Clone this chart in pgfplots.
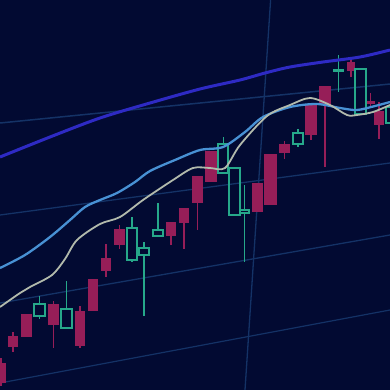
\documentclass[border=0pt]{standalone}
\usepackage{pgfplots}
\pgfplotsset{compat=1.18}
\definecolor{bgc}{RGB}{2,10,50}
\definecolor{gridc}{RGB}{20,50,102}
\definecolor{cred}{RGB}{150,30,88}
\definecolor{cteal}{RGB}{38,168,138}
\definecolor{mablue}{RGB}{46,42,196}
\definecolor{malight}{RGB}{72,145,212}
\definecolor{magray}{RGB}{178,186,172}
% red (filled) candle: xl, xc, xr, top, bottom, high, low
\newcommand{\rc}[7]{%
  \addplot[cred, line width=1.3pt] coordinates {(#2,#6) (#2,#7)};
  \addplot[draw=none, fill=cred] coordinates {(#1,#4) (#3,#4) (#3,#5) (#1,#5)} --cycle;
}
% teal (hollow) candle
\newcommand{\tc}[7]{%
  \addplot[cteal, line width=1.3pt] coordinates {(#2,#6) (#2,#4)};
  \addplot[cteal, line width=1.3pt] coordinates {(#2,#5) (#2,#7)};
  \addplot[cteal, line width=1.3pt, fill=none] coordinates {(#1,#4) (#3,#4) (#3,#5) (#1,#5)} --cycle;
}
\begin{document}
\begin{tikzpicture}
\begin{axis}[
  scale only axis, width=390bp, height=390bp,
  xmin=0, xmax=390, ymin=0, ymax=390, y dir=reverse,
  axis line style={draw=none}, ticks=none,
  axis background/.style={fill=bgc},
  clip=true,
]
% grid lines
\addplot[gridc, line width=1.5pt] coordinates {(0,123) (390,84)};
\addplot[gridc, line width=1.3pt] coordinates {(0,215) (390,163)};
\addplot[gridc, line width=1.3pt] coordinates {(0,303) (390,235)};
\addplot[gridc, line width=1.2pt] coordinates {(0,383) (390,310)};
\addplot[gridc, line width=1.3pt] coordinates {(270.6,0) (245,390)};
% red candles
\rc{-4}{1}{6}{363}{383}{358}{386}
\rc{8}{13}{18}{336}{347}{332}{352}
\rc{21}{26.5}{32}{314}{337}{314}{337}
\rc{48}{53.5}{59}{304}{325}{301}{348}
\rc{75}{80}{85}{311}{346}{306}{348}
\rc{88}{93}{98}{279}{311}{279}{311}
\rc{101}{106}{111}{258}{271}{244}{277}
\rc{114}{119.5}{125}{229}{245}{225}{249}
\rc{166}{171}{176}{222}{236}{222}{245}
\rc{179}{184}{189}{208}{223}{208}{249}
\rc{192}{197.5}{203}{176}{203}{176}{230}
\rc{205}{211}{217}{151}{182}{151}{182}
\rc{252}{257.5}{263}{183}{212}{183}{212}
\rc{264}{270.5}{277}{154}{205}{154}{205}
\rc{279}{284.5}{290}{144}{153}{141}{159}
\rc{305}{311}{317}{105}{135}{105}{140}
\rc{319}{325}{331}{86}{105}{86}{167}
\rc{347}{351}{355}{62}{71}{58}{77}
\rc{366}{370.5}{375}{101}{103.5}{93}{106}
\rc{374}{379}{384}{111}{125}{102}{139}
% teal candles
\tc{34}{39.5}{45}{304}{316}{296}{319}
\tc{61}{66.5}{72}{309}{328}{281}{328}
\tc{127}{132}{137}{228}{260}{217}{262}
\tc{139}{144}{149}{248}{255}{242}{316}
\tc{153}{158}{163}{230}{236}{203}{236}
\tc{218}{223.5}{228}{144}{173}{137}{173}
\tc{229}{234.5}{240}{168}{215}{168}{215}
\tc{240}{244.5}{249}{210}{213}{185}{262}
\tc{293}{298}{303}{133}{144}{129}{147}
\tc{334}{338.5}{343}{70}{71.5}{55}{92}
\tc{355}{360.5}{366}{69}{114}{69}{114}
\tc{386}{391}{396}{107}{123}{100}{130}
% moving averages
\addplot[mablue, line width=3pt, smooth] coordinates {
 (0,157) (50,137) (100,118) (150,103) (200,89) (240,80) (265,73) (290,67) (323,62) (360,57) (390,50)};
\addplot[malight, line width=2.3pt, smooth] coordinates {
 (0,268) (25,255) (50,237) (70,220) (85,207) (100,200) (117,193) (135,182) (150,171) (175,160) (200,150) (223,147) (245,132) (263,117) (290,107) (317,104) (340,108) (357,110) (375,106) (390,102)};
\addplot[magray, line width=1.8pt, smooth] coordinates {
 (0,307) (20,293) (30,287) (52,275) (65,259) (77,240) (100,224) (120,217) (143,200) (173,180) (193,168) (210,168) (225,168) (240,145) (267,116) (290,105) (310,98) (330,105) (347,115) (357,115) (373,112) (390,105)};
\end{axis}
\end{tikzpicture}
\end{document}
